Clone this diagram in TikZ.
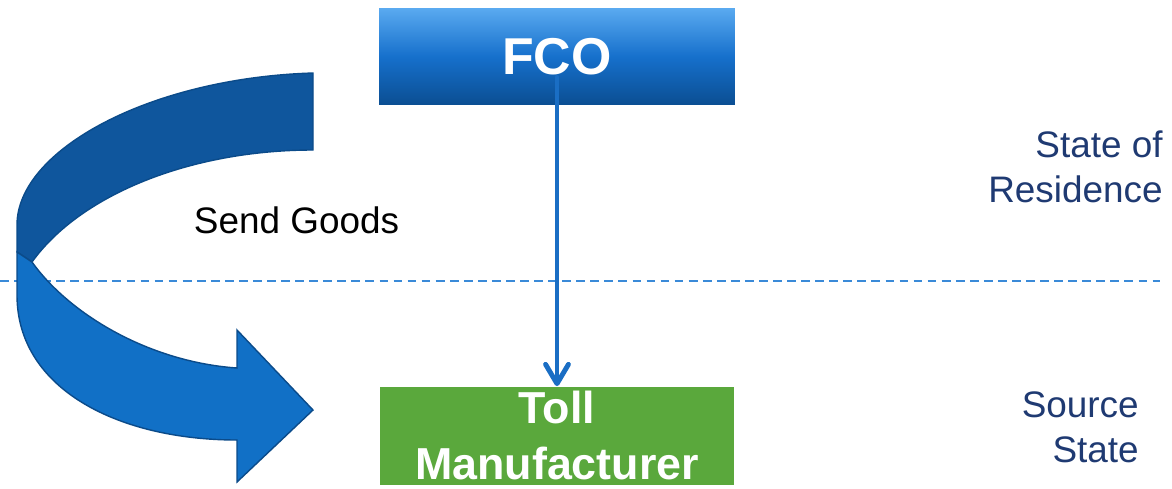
\documentclass[tikz,border=0pt]{standalone}
\usepackage{fontspec}
\setmainfont{Liberation Sans}
\usetikzlibrary{arrows.meta, positioning}
\usepackage{xcolor}

\definecolor{fcoTop}{HTML}{5AAAF0}
\definecolor{fcoMid}{HTML}{1670CC}
\definecolor{fcoBot}{HTML}{0B4E92}
\definecolor{tollGreen}{HTML}{5AA83C}
\definecolor{flowBlue}{HTML}{1A6EC4}
\definecolor{bandDark}{HTML}{0F569D}
\definecolor{bandLight}{HTML}{1170C6}
\definecolor{bandEdge}{HTML}{0B4B8A}
\definecolor{stateNavy}{HTML}{1F3A72}
\definecolor{sepBlue}{HTML}{3A8AD8}

\begin{document}
\begin{tikzpicture}[x=0.02cm, y=-0.02cm,
    box/.style={rectangle, inner sep=0pt, text=white, font=\bfseries},
    statelabel/.style={anchor=east, align=right, text=stateNavy, inner sep=0pt,
      font=\fontsize{21}{25.5}\selectfont}]
  \useasboundingbox (0,0) rectangle (1172,488);

  % the two parties
  \node[box, minimum width=7.12cm, minimum height=1.94cm,
    top color=fcoTop, bottom color=fcoBot, middle color=fcoMid,
    font=\bfseries\fontsize{29.5}{34}\selectfont] (fco) at (557,56.5) {FCO};
  \node[box, fill=tollGreen, minimum width=7.08cm, minimum height=1.96cm,
    align=center, font=\bfseries\fontsize{25.5}{31.8}\selectfont] (toll) at (557,435.5) {Toll\\Manufacturer};

  % border between the two states
  \draw[sepBlue, line width=0.8pt, dash pattern=on 5pt off 3pt] (0,281) -- (1160,281);

  % FCO keeps control of the goods
  \draw[flowBlue, line width=2.8pt, line cap=round,
    -{Straight Barb[length=11pt, width=13pt, round]}]
    ([yshift=0.56cm]fco.south) -- (toll.north);

  % big curved arrow, back band first
  \filldraw[fill=bandDark, draw=bandEdge, line width=0.8pt]
    (313,73) .. controls (150,78) and (17,150) .. (17,225) -- (17,252)
    -- (32,262) .. controls (80,195) and (190,150) .. (313,150) -- cycle;
  \filldraw[fill=bandLight, draw=bandEdge, line width=0.8pt]
    (17,252) -- (17,295) .. controls (17,390) and (120,440) .. (237,440)
    -- (237,482) -- (313,410) -- (237,330) -- (237,368)
    .. controls (150,362) and (70,315) .. (32,262) -- cycle;
  \node[font=\fontsize{21}{25}\selectfont, inner sep=0pt] (send) at (296.5,220) {Send Goods};

  % state labels
  \node[statelabel] (residence) at (1163,167) {State of\\Residence};
  \node[statelabel] (source) at (1139,427) {Source\\State};
\end{tikzpicture}
\end{document}
